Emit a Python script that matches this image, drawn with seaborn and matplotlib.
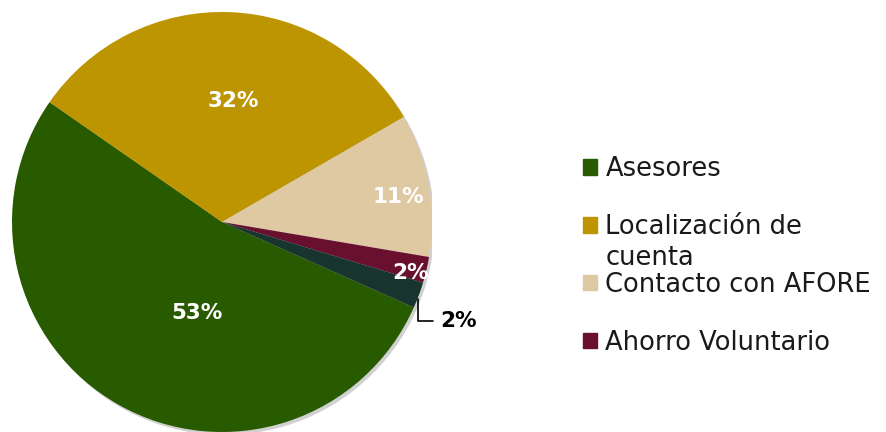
import matplotlib
matplotlib.use('Agg')
import matplotlib.pyplot as plt
import matplotlib.patches as mpatches
import numpy as np
import seaborn as sns

# data
categorias = ['Asesores', 'Localización de\ncuenta', 'Contacto con AFORE', 'Ahorro Voluntario', 'Otros']
porcentajes = [53, 32, 11, 2, 2]
colores = ['#285A00', '#BD9500', '#DFC9A2', '#69102F', '#17342F']
en_leyenda = 4  # the 5th entry is cut off in the original

sns.set_theme(style='white')
plt.rcParams['font.family'] = ['DejaVu Sans']
pal = sns.color_palette(colores)

fig = plt.figure(figsize=(8.87, 4.32), dpi=100)
ax = fig.add_axes([12 / 887, 0, 420 / 887, 420 / 432])

# soft grey shadow under the pie
ax.add_patch(mpatches.Circle((0.012, -0.014), 1.0, color='#9a9a9a', alpha=0.45, lw=0, zorder=0))

wedges, _ = ax.pie(porcentajes, colors=pal, startangle=-24, counterclock=False,
                   radius=1, wedgeprops=dict(linewidth=0))
ax.set_xlim(-1, 1)
ax.set_ylim(-1, 1)
ax.set_aspect('equal')
ax.axis('off')

# label placement (radius, angle shift) per slice
lab_r = [0.45, 0.58, 0.85, 0.93, 1.14]
lab_shift = [14, -3, -2, -2, -4]
for i, (w, p) in enumerate(zip(wedges, porcentajes)):
    ang = np.deg2rad((w.theta1 + w.theta2) / 2 + lab_shift[i])
    x, y = lab_r[i] * np.cos(ang), lab_r[i] * np.sin(ang)
    if i < 4:
        ax.text(x, y, f'{p}%', ha='center', va='center', color='white',
                fontsize=15.5, fontweight='bold')
    else:
        mid = np.deg2rad((w.theta1 + w.theta2) / 2 - 1)
        ax.annotate(f'{p}%', xy=(np.cos(mid), np.sin(mid)), xytext=(x, y),
                    ha='left', va='center', fontsize=15.5, fontweight='bold', color='black',
                    annotation_clip=False,
                    arrowprops=dict(arrowstyle='-', color='black', lw=1.2,
                                    shrinkA=3, shrinkB=0,
                                    connectionstyle='angle,angleA=180,angleB=90,rad=0'))

# legend: wrapped labels overflow below their slot, as in the original
primeras = [c.split('\n')[0] for c in categorias]
handles = [mpatches.Patch(color=pal[i], label=primeras[i]) for i in range(en_leyenda)]
leg = fig.legend(handles=handles, loc='upper left', bbox_to_anchor=(583 / 887, 1 - 156 / 432),
                 frameon=False, fontsize=18.5, handlelength=0.55, handleheight=0.55,
                 handletextpad=0.32, labelspacing=1.24, borderpad=0, borderaxespad=0)
for t in leg.get_texts():
    t.set_color('#1a1a1a')

fig.canvas.draw()
for i in range(en_leyenda):
    partes = categorias[i].split('\n')
    if len(partes) > 1:
        bb = leg.get_texts()[i].get_window_extent()
        fig.text(bb.x0, bb.y0 - 31, '\n'.join(partes[1:]), transform=None,
                 fontsize=18.5, color='#1a1a1a', ha='left', va='bottom')

fig.savefig('out.png', dpi=100)
